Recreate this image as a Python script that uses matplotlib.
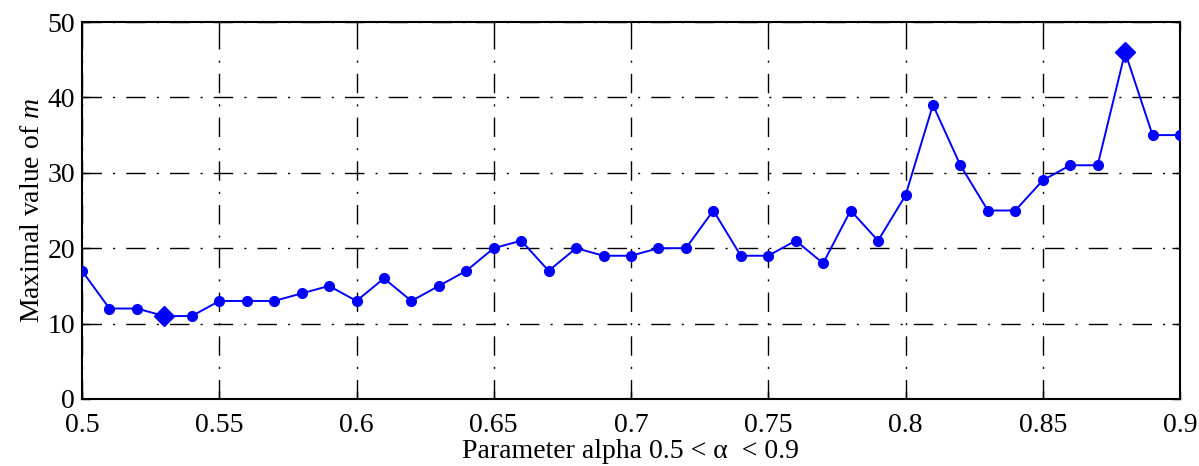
import matplotlib
matplotlib.use("Agg")
import matplotlib.pyplot as plt
import numpy as np

alpha = [0.50, 0.51, 0.52, 0.53, 0.54, 0.55, 0.56, 0.57, 0.58, 0.59,
         0.60, 0.61, 0.62, 0.63, 0.64, 0.65, 0.66, 0.67, 0.68, 0.69,
         0.70, 0.71, 0.72, 0.73, 0.74, 0.75, 0.76, 0.77, 0.78, 0.79,
         0.80, 0.81, 0.82, 0.83, 0.84, 0.85, 0.86, 0.87, 0.88, 0.89, 0.90]
max_m = [17, 12, 12, 11, 11, 13, 13, 13, 14, 15,
         13, 16, 13, 15, 17, 20, 21, 17, 20, 19,
         19, 20, 20, 25, 19, 19, 21, 18, 25, 21,
         27, 39, 31, 25, 25, 29, 31, 31, 46, 35, 35]
highlight_x = [0.53, 0.88]
highlight_y = [11, 46]
xticks = [0.5, 0.55, 0.6, 0.65, 0.7, 0.75, 0.8, 0.85, 0.9]
xticklabels = ["0.5", "0.55", "0.6", "0.65", "0.7", "0.75", "0.8", "0.85", "0.9"]
yticks = [0, 10, 20, 30, 40, 50]

plt.rcParams['font.family'] = ['Liberation Serif', 'DejaVu Serif']
plt.rcParams['mathtext.fontset'] = 'custom'
plt.rcParams['mathtext.it'] = 'Liberation Serif:italic'
plt.rcParams['mathtext.rm'] = 'Liberation Serif'

fig = plt.figure(figsize=(11.99, 4.66), dpi=100)
ax = fig.add_axes([82/1199, 1 - 399/466, (1180 - 82)/1199, (399 - 22)/466])

blue = (0, 0, 1)
ax.plot(alpha, max_m, '-', color=blue, lw=1.4, marker='o', markersize=7, zorder=3)
ax.plot(highlight_x, highlight_y, 'D', color=blue, markersize=10.5, zorder=4)

ax.set_xlim(0.5, 0.9)
ax.set_ylim(0, 50)
ax.set_xticks(xticks)
ax.set_xticklabels(xticklabels)
ax.set_yticks(yticks)
ax.tick_params(direction='in', top=True, right=True, length=6, width=1,
               labelsize=20)
ax.tick_params(axis='x', pad=10)
ax.tick_params(axis='y', pad=5)
ax.grid(True, color='black', lw=1.0, linestyle=(0, (14, 8, 1.5, 8)))
for s in ax.spines.values():
    s.set_linewidth(1.5)

ax.set_ylabel(r"Maximal value of $\it{m}$", fontsize=20, labelpad=2)
ax.set_xlabel(r"Parameter alpha 0.5 < α  < 0.9", fontsize=20, labelpad=1)

fig.savefig("out.png", dpi=100)
